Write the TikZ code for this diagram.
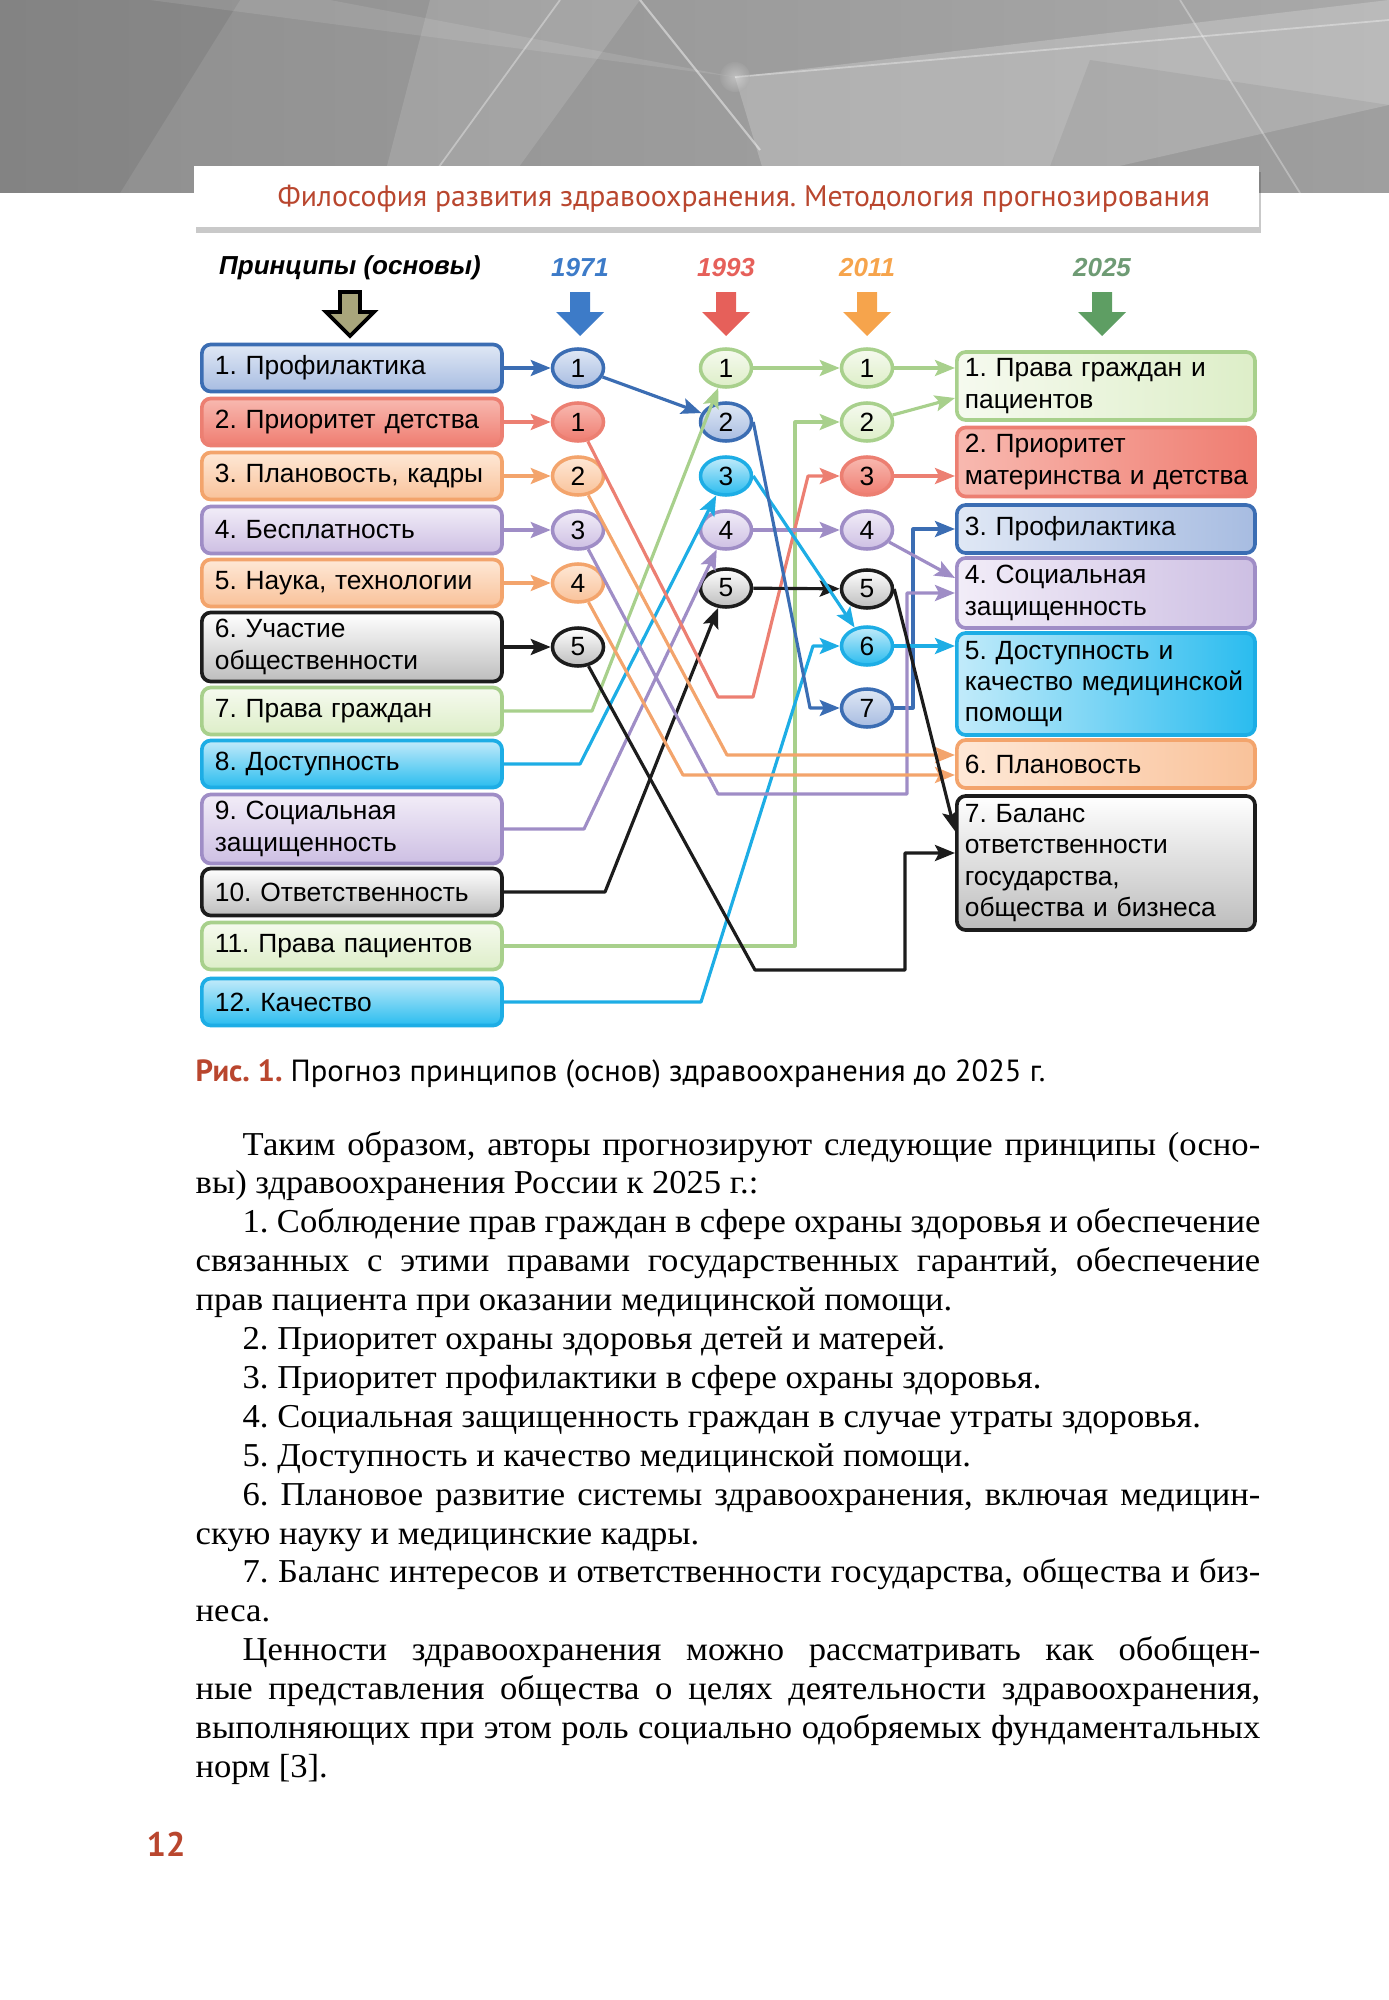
\documentclass[tikz,border=0pt]{standalone}
\usepackage{fontspec}
\setmainfont[FakeStretch=1.035]{Liberation Serif}
\setsansfont{Liberation Sans}
\newfontfamily\headfont{PT Sans}
\usetikzlibrary{arrows.meta,shapes.geometric,shadows,calc}
\frenchspacing

\definecolor{bluedk}{HTML}{3B6DB3}
\definecolor{bluelt}{HTML}{E0E8F5}
\definecolor{bluemd}{HTML}{A7BCE1}
\definecolor{reddk}{HTML}{EC7F72}
\definecolor{redlt}{HTML}{F8B9B0}
\definecolor{redmd}{HTML}{EF7D71}
\definecolor{orgdk}{HTML}{F3A46C}
\definecolor{orglt}{HTML}{FEE8D6}
\definecolor{orgmd}{HTML}{F9C29A}
\definecolor{purdk}{HTML}{9F8DC6}
\definecolor{purlt}{HTML}{F2EDF8}
\definecolor{purmd}{HTML}{CDBFE3}
\definecolor{blkdk}{HTML}{1C1C1C}
\definecolor{blkmd}{HTML}{BDBDBD}
\definecolor{grndk}{HTML}{A8D08C}
\definecolor{grnlt}{HTML}{F6FAEF}
\definecolor{grnmd}{HTML}{DDEEC8}
\definecolor{cyndk}{HTML}{1DADE5}
\definecolor{cynlt}{HTML}{C2EBFA}
\definecolor{cynmd}{HTML}{2ABCEF}
\definecolor{y1971}{HTML}{3D7BC8}
\definecolor{y1993}{HTML}{E6605A}
\definecolor{y2011}{HTML}{F6A44C}
\definecolor{y2025}{HTML}{5E9E63}
\definecolor{ylab25}{HTML}{6E9B74}
\definecolor{princol}{HTML}{A9A67B}
\definecolor{brick}{HTML}{B9462E}
\definecolor{bannerl}{HTML}{8E8E8E}
\definecolor{bannerr}{HTML}{A9A9A9}

\begin{document}
\begin{tikzpicture}[x=0.01cm,y=-0.01cm,line join=round,
  link/.style={line width=0.9pt,-{Stealth[length=0.2cm,width=0.16cm,inset=0.04cm]}},
  lbox/.style={draw,rounded corners=0.09cm,line width=1.05pt,anchor=west,
    minimum width=3cm,minimum height=0.47cm,text width=2.74cm,inner xsep=0.13cm,
    inner ysep=0pt,align=left,font=\sffamily\fontsize{7.5}{8.9}\selectfont},
  rbox/.style={lbox,minimum width=2.98cm,text width=2.82cm,inner xsep=0.08cm},
  num/.style={ellipse,draw,line width=1pt,minimum width=0.51cm,minimum height=0.38cm,
    inner sep=0pt,font=\sffamily\fontsize{7.5}{9}\selectfont},
  year/.style={font=\sffamily\bfseries\itshape\fontsize{7.4}{9}\selectfont},
  kblue/.style={draw=bluedk,top color=bluelt,bottom color=bluemd},
  kred/.style={draw=reddk,top color=redlt,bottom color=redmd},
  korg/.style={draw=orgdk,top color=orglt,bottom color=orgmd},
  kpur/.style={draw=purdk,top color=purlt,bottom color=purmd},
  kblk/.style={draw=blkdk,top color=white,bottom color=blkmd},
  kgrn/.style={draw=grndk,top color=grnlt,bottom color=grnmd},
  kcyn/.style={draw=cyndk,top color=cynlt,bottom color=cynmd},
  bodyline/.style={anchor=base west,inner sep=0pt,font=\fontsize{9.5}{11}\selectfont}]
\useasboundingbox (0,0) rectangle (1389,2000);

% banner
\shade[left color=bannerl,right color=bannerr] (0,0) rectangle (1389,193);
\fill[black,opacity=0.07] (0,0) -- (240,0) -- (120,193) -- (0,193) -- cycle;
\fill[white,opacity=0.12] (430,0) -- (640,0) -- (500,193) -- (380,193) -- cycle;
\fill[white,opacity=0.2] (735,77) -- (1389,0) -- (1389,105) -- (1000,193) -- (770,193) -- cycle;
\fill[black,opacity=0.06] (1090,60) -- (1389,105) -- (1389,193) -- (1040,193) -- cycle;
\fill[white,opacity=0.1] (150,0) -- (330,0) -- (735,77) -- cycle;
\draw[white,opacity=0.45,line width=0.6pt] (640,0) -- (760,150);
\draw[white,opacity=0.35,line width=0.5pt] (560,0) -- (420,193);
\draw[white,opacity=0.35,line width=0.5pt] (735,77) -- (1389,20);
\draw[white,opacity=0.3,line width=0.5pt] (1180,0) -- (1300,193);
\shade[inner color=white,outer color=bannerr,opacity=0.35] (735,77) circle (0.15cm);

% header band
\path[fill=white,drop shadow={shadow xshift=0.02cm,shadow yshift=-0.06cm,opacity=0.3,fill=black!70}] (194,166) rectangle (1259,227);
\node[anchor=base west,inner sep=0pt,text=brick,font=\headfont\fontsize{8.45}{10}\selectfont] (head) at (277,207)
  {Философия развития здравоохранения. Методология прогнозирования};

% column titles
\node[year] (tprin) at (350,268) {Принципы (основы)};
\node[year,text=y1971] (t1971) at (580,268) {1971};
\node[year,text=y1993] (t1993) at (726,268) {1993};
\node[year,text=y2011] (t2011) at (867,268) {2011};
\node[year,text=ylab25] (t2025) at (1102,268) {2025};

\filldraw[fill=princol,draw=black,line width=1.1pt,line join=miter]
  (340,292) -- (360,292) -- (360,312) -- (374,312) -- (350,336) -- (326,312) -- (340,312) -- cycle;
\foreach \ax/\ac in {580/y1971,726/y1993,867/y2011,1102/y2025}
  \fill[\ac] ({\ax-10},292) -- ({\ax+10},292) -- ({\ax+10},312) -- ({\ax+24},312)
    -- (\ax,336) -- ({\ax-24},312) -- ({\ax-10},312) -- cycle;

% principles
\node[lbox,kblue] (L1) at (200,368) {1. Профилактика};
\node[lbox,kred] (L2) at (200,422) {2. Приоритет детства};
\node[lbox,korg] (L3) at (200,476) {3. Плановость, кадры};
\node[lbox,kpur] (L4) at (200,530) {4. Бесплатность};
\node[lbox,korg] (L5) at (200,583) {5. Наука, технологии};
\node[lbox,kblk,minimum height=0.69cm] (L6) at (200,647) {6. Участие\\общественности};
\node[lbox,kgrn] (L7) at (200,711) {7. Права граждан};
\node[lbox,kcyn] (L8) at (200,764) {8. Доступность};
\node[lbox,kpur,minimum height=0.69cm] (L9) at (200,829) {9. Социальная\\защищенность};
\node[lbox,kblk] (L10) at (200,892) {10. Ответственность};
\node[lbox,kgrn] (L11) at (200,946) {11. Права пациентов};
\node[lbox,kcyn] (L12) at (200,1002) {12. Качество};

% 1971
\node[num,kblue] (A1) at (578,368) {1};
\node[num,kred] (A1r) at (578,422) {1};
\node[num,korg] (A2) at (578,476) {2};
\node[num,kpur] (A3) at (578,530) {3};
\node[num,korg] (A4) at (578,583) {4};
\node[num,kblk] (A5) at (578,647) {5};

% 1993
\node[num,kgrn] (B1) at (726,368) {1};
\node[num,kblue] (B2) at (726,422) {2};
\node[num,kcyn] (B3) at (726,476) {3};
\node[num,kpur] (B4) at (726,530) {4};
\node[num,kblk] (B5) at (726,588) {5};

% 2011
\node[num,kgrn] (C1) at (867,368) {1};
\node[num,kgrn] (C2) at (867,422) {2};
\node[num,kred] (C3) at (867,476) {3};
\node[num,kpur] (C4) at (867,530) {4};
\node[num,kblk] (C5) at (867,589) {5};
\node[num,kcyn] (C6) at (867,646) {6};
\node[num,kblue] (C7) at (867,708) {7};

% 2025
\node[rbox,kgrn,shading angle=90,minimum height=0.68cm] (R1) at (955,386) {1. Права граждан и\\пациентов};
\node[rbox,kred,shading angle=90,minimum height=0.69cm] (R2) at (955,462) {2. Приоритет\\материнства~и~детства};
\node[rbox,kblue,shading angle=90,minimum height=0.48cm] (R3) at (955,529) {3. Профилактика};
\node[rbox,kpur,shading angle=90,minimum height=0.70cm] (R4) at (955,593) {4. Социальная\\защищенность};
\node[rbox,kcyn,shading angle=90,minimum height=1.02cm] (R5) at (955,684) {5. Доступность и\\качество~медицинской\\помощи};
\node[rbox,korg,shading angle=90,minimum height=0.48cm] (R6) at (955,764) {6. Плановость};
\node[rbox,kblk,minimum height=1.34cm] (R7) at (955,863) {7. Баланс\\ответственности\\государства,\\общества и бизнеса};

% into 1971
\draw[link,bluedk] (L1) -- (A1);
\draw[link,reddk] (L2) -- (A1r);
\draw[link,orgdk] (L3) -- (A2);
\draw[link,purdk] (L4) -- (A3);
\draw[link,orgdk] (L5) -- (A4);
\draw[link,blkdk] (L6) -- (A5);

% into 1993
\draw[link,bluedk] (A1) -- (B2);
\draw[link,grndk] (L7) -- (592,711) -- (B1);
\draw[link,cyndk] (L8) -- (580,764) -- (B3);
\draw[link,purdk] (L9) -- (584,829) -- (B4);
\draw[link,blkdk] (L10) -- (605,892) -- (B5);

% into 2011
\draw[link,grndk] (B1) -- (C1);
\draw[link,grndk] (L11) -- (795,946) |- (C2);
\draw[link,reddk] (A1r) -- (718,697) -- (753,697) -- (808,476) -- (C3);
\draw[link,purdk] (B4) -- (C4);
\draw[link,blkdk] (B5) -- (C5);
\draw[link,cyndk] (B3.east) -- (C6);
\draw[link,cyndk] (L12) -- (701,1002) -- (813,646) -- (C6);
\draw[link,bluedk] (B2.east) -- (810,708) -- (C7);

% into 2025
\draw[link,grndk] (C1) -- (C1 -| R1.west);
\draw[link,grndk] (C2) -- ($(R1.west)+(0,12)$);
\draw[link,reddk] (C3) -- (C3 -| R2.west);
\draw[link,bluedk] (C7) -- (913,708) |- (R3.west);
\draw[link,purdk] (C4) -- ($(R4.west)+(0,-15)$);
\draw[link,purdk] (A3) -- (718,794) -- (907,794) |- (R4.west);
\draw[link,cyndk] (C6) -- (C6 -| R5.west);
\draw[link,orgdk] (A2) -- (727,755) -- ($(R6.west)+(0,-9)$);
\draw[link,orgdk] (A4) -- (683,775) -- ($(R6.west)+(0,11)$);
\draw[link,blkdk] (C5.east) -- ($(R7.north west)+(0,37)$);
\draw[link,blkdk] (A5) -- (755,970) -- (905,970) |- ($(R7.west)+(0,-10)$);

% caption
\node[anchor=base west,inner sep=0pt,font=\headfont\fontsize{8.7}{10}\selectfont] (capt) at (195,1081)
  {\textcolor{brick}{\bfseries Рис. 1.} Прогноз принципов (основ) здравоохранения до 2025 г.};

% body text
\node[bodyline] (t1) at (242,1155) {\makebox[10.17cm][s]{Таким образом, авторы прогнозируют следующие принципы (осно-}};
\node[bodyline] (t2) at (195,1193.9) {вы) здравоохранения России к 2025 г.:};
\node[bodyline] (t3) at (242,1232.8) {\makebox[10.17cm][s]{1. Соблюдение прав граждан в сфере охраны здоровья и обеспечение}};
\node[bodyline] (t4) at (195,1271.7) {\makebox[10.64cm][s]{связанных с этими правами государственных гарантий, обеспечение}};
\node[bodyline] (t5) at (195,1310.6) {прав пациента при оказании медицинской помощи.};
\node[bodyline] (t6) at (242,1349.5) {2. Приоритет охраны здоровья детей и матерей.};
\node[bodyline] (t7) at (242,1388.4) {3. Приоритет профилактики в сфере охраны здоровья.};
\node[bodyline] (t8) at (242,1427.3) {4. Социальная защищенность граждан в случае утраты здоровья.};
\node[bodyline] (t9) at (242,1466.2) {5. Доступность и качество медицинской помощи.};
\node[bodyline] (t10) at (242,1505.1) {\makebox[10.17cm][s]{6. Плановое развитие системы здравоохранения, включая медицин-}};
\node[bodyline] (t11) at (195,1544) {скую науку и медицинские кадры.};
\node[bodyline] (t12) at (242,1582.9) {\makebox[10.17cm][s]{7. Баланс интересов и ответственности государства, общества и биз-}};
\node[bodyline] (t13) at (195,1621.8) {неса.};
\node[bodyline] (t14) at (242,1660.7) {\makebox[10.17cm][s]{Ценности здравоохранения можно рассматривать как обобщен-}};
\node[bodyline] (t15) at (195,1699.6) {\makebox[10.64cm][s]{ные представления общества о целях деятельности здравоохранения,}};
\node[bodyline] (t16) at (195,1738.5) {\makebox[10.64cm][s]{выполняющих при этом роль социально одобряемых фундаментальных}};
\node[bodyline] (t17) at (195,1777.4) {норм [3].};

% page number
\node[anchor=base west,inner sep=0pt,text=brick,font=\headfont\bfseries\fontsize{9.7}{11}\selectfont] (pnum) at (146,1856) {12};
\end{tikzpicture}
\end{document}
